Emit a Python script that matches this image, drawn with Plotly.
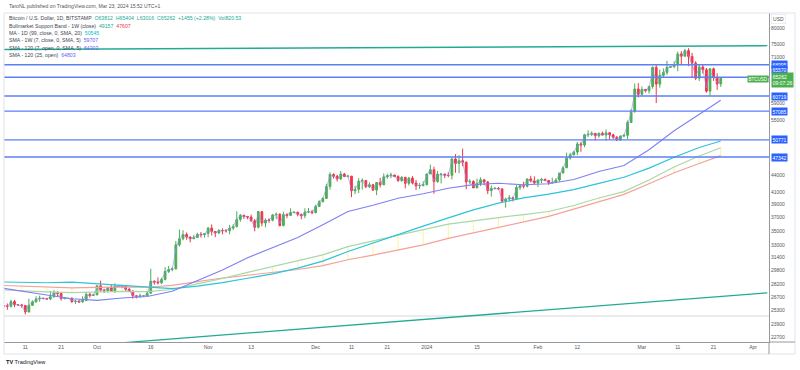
import math
import pandas as pd
import plotly.graph_objects as go

# ---------------- data ----------------
dates = pd.date_range("2023-09-05", "2024-03-23", freq="D")

opens = [
    25820, 25780, 25750, 26240, 25900, 25890, 25830, 25150, 25850, 26220, 26530, 26600, 26570, 26530, 26760, 27210, 27130, 26570, 26580, 26580, 26250, 26300, 26210, 26350, 27030, 26910,
    26970, 27990, 27500, 27430, 27790, 27410, 27950, 27970, 27940, 27590, 27390, 26870, 26760, 26860, 26860, 27160, 28520, 28420, 28330, 28720, 29680, 29920, 29990, 33080, 33920, 34500, 34150, 33910, 34090, 34530, 34490,
    34650, 35420, 34940, 34720, 35080, 35050, 35040, 35420, 35630, 36690, 37320, 37140, 37060, 36490, 35550, 37880, 36160, 36600, 36580, 37380, 37470, 35800, 37430, 37300, 37740, 37800, 37470, 37250, 37830, 37860,
    37720, 38690, 39470, 39980, 41980, 44080, 43770, 43290, 44170, 43720, 43790, 41240, 41490, 42890, 43020, 41940, 42280, 41370, 42660, 42270, 43660, 43870, 43990, 43730, 43010, 43590, 42520, 43440, 42580, 42070, 42140,
    42280, 44180, 44950, 42840, 44150, 44160, 43970, 43930, 46960, 46110, 46650, 46340, 42780, 42840, 41740, 42500, 43140, 42750, 41270, 41620, 41660, 41570, 39530, 39890, 40080, 39930, 41810, 42120, 42030, 43300, 42940,
    42580, 43080, 43200, 43010, 42580, 42660, 43090, 44340, 45300, 47140, 47770, 48300, 49950, 49720, 51830, 51930, 52140, 51640, 52140, 51780, 52280, 51850, 51320, 50740, 51570, 51730, 54490, 57050, 62500,
    61160, 62400, 62040, 63130, 68270, 63760, 66070, 66860, 68280, 68480, 68980, 72110, 71460, 73080, 71390, 69440, 65310, 68390, 67600, 61940, 67860, 65500, 63812,
]
highs = [
    25860, 26040, 26440, 26420, 25940, 26000, 25870, 26540, 26380, 26810, 26890, 26680, 26620, 27410, 27490, 27380, 27160, 26740, 26640, 26730, 26420, 26390, 26820, 27300, 27220, 27090,
    28060, 28580, 27660, 27830, 28120, 28270, 28020, 28100, 27990, 27730, 27480, 26940, 27100, 26960, 27290, 30000, 28610, 28970, 28920, 30210, 30350, 30200, 33600, 35200, 35120, 34800, 34250, 34470, 34750, 34860, 34710,
    35580, 35950, 34950, 35260, 35380, 35280, 35890, 35990, 37950, 37520, 37400, 37230, 37420, 36750, 37980, 37930, 36850, 36850, 37530, 37750, 37650, 37860, 37650, 38420, 37890, 37830, 37570, 38400, 38450, 38170,
    38970, 39680, 40200, 42420, 44480, 44300, 44040, 44710, 44370, 44040, 43820, 42100, 43420, 43420, 43090, 42700, 42420, 42750, 43480, 44280, 44230, 44400, 44020, 43950, 43780, 43610, 43660, 43790, 43130, 42590, 42880,
    44200, 45900, 45500, 44730, 44340, 44230, 44490, 47200, 47900, 47700, 49000, 46500, 43250, 43070, 43350, 43580, 43200, 42930, 42140, 41870, 41880, 41670, 40120, 40540, 40290, 42210, 42200, 42800, 43310, 43850, 43750,
    43250, 43480, 43380, 43120, 43510, 43410, 44360, 45600, 48200, 48170, 48580, 50330, 50380, 52040, 52820, 52570, 52170, 52350, 52500, 52980, 52370, 52060, 51550, 51690, 51960, 54930, 57570, 63900, 64000,
    63150, 62460, 63230, 68520, 69100, 67640, 67980, 70100, 68590, 69990, 72800, 72920, 73650, 73800, 72400, 70000, 68900, 68930, 68100, 68030, 68200, 66650, 65404,
]
lows = [
    25570, 25380, 25620, 25650, 25810, 25590, 24900, 25140, 25780, 26130, 26230, 26480, 26410, 26390, 26680, 26840, 26350, 26480, 26520, 26080, 25990, 26090, 26110, 26340, 26670, 26880,
    26950, 27330, 27170, 27220, 27350, 27190, 27860, 27710, 27290, 27300, 26560, 26580, 26700, 26810, 26820, 27120, 28110, 28140, 28180, 28600, 29480, 29690, 29900, 32850, 33700, 33780, 33430, 33880, 34030, 34070, 34080,
    34120, 34360, 34130, 34580, 34530, 34770, 34540, 35120, 35550, 36360, 36760, 36720, 36350, 34950, 35360, 35680, 35530, 36190, 36400, 36730, 35650, 35650, 36880, 37270, 37600, 37170, 36720, 36880, 37620, 37500,
    37620, 38650, 39300, 39970, 41430, 43350, 42830, 43100, 43590, 43580, 40200, 40680, 40860, 41450, 41680, 41700, 41250, 40530, 41830, 42200, 43330, 43410, 43600, 42760, 42750, 41650, 42140, 42330, 41350, 41540, 41990,
    42180, 44170, 40750, 42620, 42500, 43420, 43580, 43200, 44400, 44300, 45600, 41500, 42440, 41720, 41710, 42050, 42200, 40700, 40280, 41500, 41450, 39430, 38500, 39480, 39500, 39830, 41400, 41630, 41810, 42700, 42300,
    41880, 42570, 42880, 42250, 42550, 42600, 42790, 44330, 45260, 46850, 47660, 47720, 48370, 49280, 51340, 51580, 50630, 51180, 51700, 50600, 50840, 50950, 50560, 50590, 51300, 50950, 54450, 56700, 60380,
    60800, 61600, 61330, 62560, 59000, 62820, 65540, 66150, 68100, 68020, 67190, 68840, 71350, 68600, 65600, 64800, 64550, 66580, 61550, 60800, 64580, 62260, 63016,
]
closes = [
    25780, 25750, 26240, 25900, 25890, 25830, 25150, 25850, 26220, 26530, 26600, 26570, 26530, 26760, 27210, 27130, 26570, 26580, 26580, 26250, 26300, 26210, 26350, 27030, 26910, 26970,
    27990, 27500, 27430, 27790, 27410, 27950, 27970, 27940, 27590, 27390, 26870, 26760, 26860, 26860, 27160, 28520, 28420, 28330, 28720, 29680, 29920, 29990, 33080, 33920, 34500, 34150, 33910, 34090, 34530, 34490, 34650,
    35420, 34940, 34720, 35080, 35050, 35040, 35420, 35630, 36690, 37320, 37140, 37060, 36490, 35550, 37880, 36160, 36600, 36580, 37380, 37470, 35800, 37430, 37300, 37740, 37800, 37470, 37250, 37830, 37860, 37720,
    38690, 39470, 39980, 41980, 44080, 43770, 43290, 44170, 43720, 43790, 41240, 41490, 42890, 43020, 41940, 42280, 41370, 42660, 42270, 43660, 43870, 43990, 43730, 43010, 43590, 42520, 43440, 42580, 42070, 42140, 42280,
    44180, 44950, 42840, 44150, 44160, 43970, 43930, 46960, 46110, 46650, 46340, 42780, 42840, 41740, 42500, 43140, 42750, 41270, 41620, 41660, 41570, 39530, 39890, 40080, 39930, 41810, 42120, 42030, 43300, 42940, 42580,
    43080, 43200, 43010, 42580, 42660, 43090, 44340, 45300, 47140, 47770, 48300, 49950, 49720, 51830, 51930, 52140, 51640, 52140, 51780, 52280, 51850, 51320, 50740, 51570, 51730, 54490, 57050, 62500, 61160,
    62400, 62040, 63130, 68270, 63760, 66070, 66860, 68280, 68480, 68980, 72110, 71460, 73080, 71390, 69440, 65310, 68390, 67600, 61940, 67860, 65500, 63800, 65262,
]
# SMA - 120 (7, open) as seen on the daily chart
sma_2h = [
    25750, 25800, 26100, 25950, 25890, 25800, 25200, 25900, 26150, 26450, 26600, 26580, 26540, 26800, 27200, 27050, 26600, 26580, 26580, 26400, 26250, 26230, 26400, 26950, 26900, 26950,
    27700, 27600, 27450, 27700, 27500, 27900, 27960, 27950, 27600, 27400, 26900, 26750, 26850, 26860, 27050, 28400, 28450, 28400, 28650, 29600, 29900, 29950, 32500, 34000, 34500, 34200, 33900, 34050, 34450, 34450, 34550,
    35200, 35000, 34700, 35000, 35000, 35050, 35350, 35600, 36800, 37200, 37150, 37050, 36600, 35600, 37600, 36400, 36450, 36600, 37200, 37450, 36100, 37300, 37350, 37800, 37780, 37500, 37200, 37800, 37850, 37750,
    38600, 39400, 39900, 41800, 43800, 43850, 43300, 44000, 43800, 43800, 41300, 41500, 42600, 42900, 42100, 42200, 41500, 42400, 42400, 43500, 43800, 43900, 43750, 43200, 43500, 42700, 43300, 42700, 42200, 42150, 42300,
    43900, 45100, 42900, 44000, 44000, 43950, 43900, 46700, 46200, 46400, 46500, 43200, 42800, 41900, 42400, 43000, 42700, 41400, 41600, 41650, 41580, 39800, 39800, 40050, 39950, 41600, 42100, 42050, 43100, 43000, 42600,
    43000, 43150, 43050, 42650, 42700, 43050, 44100, 45200, 46900, 47700, 48200, 49700, 49700, 51600, 51900, 52100, 51700, 52000, 51800, 52100, 51800, 51400, 50900, 51500, 51700, 54000, 56800, 61500, 61600,
    62300, 62100, 62900, 67500, 64500, 65800, 66800, 68000, 68450, 68900, 71600, 71600, 72900, 71800, 69200, 66000, 67900, 67700, 62800, 67000, 65800, 64100, 64303,
]

# weekly indicator points (week closes, last = current bar)
week_dates = ["2023-09-03", "2023-09-10", "2023-09-17", "2023-09-24", "2023-10-01", "2023-10-08", "2023-10-15",
              "2023-10-22", "2023-10-29", "2023-11-05", "2023-11-12", "2023-11-19", "2023-11-26", "2023-12-03",
              "2023-12-10", "2023-12-17", "2023-12-24", "2023-12-31", "2024-01-07", "2024-01-14", "2024-01-21",
              "2024-01-28", "2024-02-04", "2024-02-11", "2024-02-18", "2024-02-25", "2024-03-03", "2024-03-10",
              "2024-03-17", "2024-03-23"]
sma_7w = [27830, 27350, 26950, 26550, 26370, 26630, 26800, 27380, 28630, 29840, 31390, 32730, 34090, 35920,
          37890, 38870, 40010, 40750, 41690, 42300, 42530, 42280, 42450, 43200, 44610, 45730, 48780, 52700,
          56460, 59707]
ema_21w = [27550, 27390, 27310, 27220, 27290, 27350, 27330, 27570, 28200, 28830, 29570, 30280, 30940, 31760,
           32850, 33630, 34480, 35190, 35990, 36510, 36970, 37430, 37900, 38840, 40050, 41110, 43110, 45460,
           47550, 49157]
sma_20w = [28050, 27970, 27830, 27750, 27800, 27860, 27820, 28030, 28460, 28890, 29220, 29550, 29910, 30400,
           31130, 31730, 32430, 33080, 33970, 34760, 35540, 36350, 37160, 38260, 39470, 40650, 42450, 44400,
           46100, 47607]
sma_99d = [28440, 28350, 28340, 28400, 28210, 28010, 27760, 27660, 27950, 28350, 28860, 29380, 30090, 30960,
           32190, 33340, 34570, 35700, 36930, 38150, 39220, 40060, 40700, 41450, 42520, 43590, 45240, 47300,
           49210, 50545]

levels = [68995, 65570, 60719, 57085, 50771, 47342]
gray_level = 24740
last_price = 65262
trend_top_dates = ["2023-09-05", "2024-04-05"]
trend_top_prices = [73430, 74570]
trend_bot_dates = ["2023-10-01", "2024-04-05"]
trend_bot_prices = [22000, 27200]

y_ticks = [80000, 75000, 71000, 59000, 55000, 44000, 41000, 39000, 37000, 35000, 33000,
           31400, 29800, 28200, 26700, 25300, 23900, 22700]
x_tick_dates = ["2023-09-11", "2023-09-21", "2023-10-01", "2023-10-16", "2023-11-01", "2023-11-13",
                "2023-12-01", "2023-12-11", "2023-12-21", "2024-01-01", "2024-01-15", "2024-02-01",
                "2024-02-12", "2024-03-01", "2024-03-11", "2024-03-21", "2024-04-01"]
x_tick_labels = ["11", "21", "Oct", "16", "Nov", "13", "Dec", "11", "21", "2024", "15", "Feb", "12",
                 "Mar", "11", "21", "Apr"]

# ---------------- style ----------------
UP = "#4caf50"
DOWN = "#f23645"
BLUE = "#2962ff"
TEAL = "#22ab94"
X0, X1 = "2023-09-05 01:30", "2024-04-05 11:00"
FONT = "Liberation Sans, Arial, sans-serif"


def PX(x):
    return (x - 4) / 765


def PY(y):
    return (342 - y) / 329


fig = go.Figure()

# band hatch (weekly fill marks)
hx, hy = [], []
for d, g, r in zip(week_dates, ema_21w, sma_20w):
    hx += [d, d, None]
    hy += [g, r, None]
fig.add_trace(go.Scatter(x=hx, y=hy, mode="lines", line=dict(color="rgba(255,230,80,0.55)", width=1), hoverinfo="skip"))

fig.add_trace(go.Scatter(x=week_dates, y=sma_20w, mode="lines", line=dict(color="#f5a196", width=1.2)))
fig.add_trace(go.Scatter(x=week_dates, y=ema_21w, mode="lines", line=dict(color="#a8d8a8", width=1.2)))
fig.add_trace(go.Scatter(x=week_dates, y=sma_99d, mode="lines", line=dict(color="#2cc4d8", width=1.2)))
fig.add_trace(go.Scatter(x=week_dates, y=sma_7w, mode="lines", line=dict(color="#7f80f2", width=1.1)))

# horizontal levels
fig.add_trace(go.Scatter(x=[X0, X1], y=[gray_level, gray_level], mode="lines", line=dict(color="#d6d8de", width=1)))
for lv in levels:
    fig.add_trace(go.Scatter(x=[X0, X1], y=[lv, lv], mode="lines", line=dict(color="#5a7ff7", width=1.4)))

# trend lines
fig.add_trace(go.Scatter(x=trend_top_dates, y=trend_top_prices, mode="lines", line=dict(color=TEAL, width=1.3)))
fig.add_trace(go.Scatter(x=trend_bot_dates, y=trend_bot_prices, mode="lines", line=dict(color=TEAL, width=1.3)))

# candles
fig.add_trace(go.Candlestick(
    x=dates, open=opens, high=highs, low=lows, close=closes,
    increasing=dict(line=dict(color=UP, width=1), fillcolor=UP),
    decreasing=dict(line=dict(color=DOWN, width=1), fillcolor=DOWN),
    whiskerwidth=0, hoverinfo="skip",
))
fig.add_trace(go.Scatter(x=dates, y=sma_2h, mode="lines", line=dict(color="rgba(140,140,245,0.8)", width=0.8)))

fig.update_layout(
    width=800, height=370,
    margin=dict(l=4, r=31, t=13, b=28),
    paper_bgcolor="white", plot_bgcolor="white",
    showlegend=False,
    font=dict(family=FONT, size=5, color="#4a4a4a"),
    xaxis=dict(type="date", range=[X0, X1], rangeslider=dict(visible=False), showgrid=False,
               zeroline=False, tickvals=x_tick_dates, ticktext=x_tick_labels, ticks="",
               showline=True, linecolor="#9598a1", linewidth=1, automargin=False,
               tickfont=dict(size=5, color="#555555")),
    yaxis=dict(type="log", side="right", range=[math.log10(22251), math.log10(85220)],
               tickvals=y_ticks, ticktext=[str(v) for v in y_ticks], showgrid=False, zeroline=False,
               showline=True, linecolor="#9598a1", linewidth=1, ticks="", automargin=False,
               tickfont=dict(size=5, color="#555555")),
)

# frame
fig.add_shape(type="rect", xref="paper", yref="paper", x0=PX(4), x1=PX(795), y0=PY(354), y1=PY(13),
              line=dict(color="#e0e3eb", width=1))
fig.add_shape(type="line", xref="paper", yref="paper", x0=PX(769), x1=PX(795), y0=PY(342), y1=PY(342),
              line=dict(color="#9598a1", width=1))
fig.add_shape(type="line", xref="paper", yref="paper", x0=PX(769), x1=PX(769), y0=PY(354), y1=PY(342),
              line=dict(color="#9598a1", width=1))

# price axis labels
label_shift = [0, 8, 0, 0, 0, 0]
for lv, sh in zip(levels, label_shift):
    fig.add_annotation(x=1, xref="paper", y=math.log10(lv), yref="y", xanchor="left", yanchor="middle",
                       xshift=1.5, yshift=sh, text=str(lv), showarrow=False, bgcolor=BLUE,
                       font=dict(color="white", size=5, family=FONT), borderpad=0.5)
fig.add_annotation(x=1, xref="paper", y=math.log10(last_price), yref="y", xanchor="left", yanchor="top",
                   xshift=1.5, yshift=6.4, text=f"{last_price}<br>09:07:26", showarrow=False, bgcolor=UP,
                   align="left", font=dict(color="white", size=5, family=FONT), borderpad=0.8)
fig.add_annotation(x=1, xref="paper", y=math.log10(last_price), yref="y", xanchor="right", yanchor="middle",
                   xshift=-0.5, yshift=-0.6, text="BTCUSD", showarrow=False, bgcolor=UP,
                   font=dict(color="white", size=4.5, family=FONT), borderpad=0.5)
fig.add_annotation(x=PX(771), xref="paper", y=PY(19), yref="paper", xanchor="left", yanchor="middle",
                   text="USD", showarrow=False, bgcolor="white", bordercolor="#e0e3eb", borderwidth=0.6,
                   font=dict(color="#555555", size=5, family=FONT), borderpad=1.5)

# header and legend
G = "#434651"
GR = "#22ab94"
RD = "#f23645"
fig.add_annotation(x=PX(7), xref="paper", y=PY(5.7), yref="paper", xanchor="left", yanchor="middle",
                   text="TaroNL published on TradingView.com, Mar 23, 2024 15:52 UTC+1", showarrow=False,
                   font=dict(color="#555555", size=5.1, family=FONT))
legend_lines = [
    f"Bitcoin / U.S. Dollar, 1D, BITSTAMP  <span style='color:{GR}'>O63812  H65404  L63016  C65262  +1455 (+2.28%)  Vol820.53</span>",
    f"Bullmarket Support Band - 1W (close)  <span style='color:{GR}'>49157</span>  <span style='color:{RD}'>47607</span>",
    "MA - 1D (99, close, 0, SMA, 20)  <span style='color:#00bcd4'>50545</span>",
    "SMA - 1W (7, close, 0, SMA, 5)  <span style='color:#6a5cf5'>59707</span>",
    "SMA - 120 (7, open, 0, SMA, 5)  <span style='color:#6a5cf5'>64303</span>",
    "SMA - 120 (25, open)  <span style='color:#6a5cf5'>64803</span>",
]
for i, t in enumerate(legend_lines):
    fig.add_annotation(x=PX(7), xref="paper", y=PY(18.2 + 7.35 * i), yref="paper", xanchor="left",
                       yanchor="middle", text=t, showarrow=False, font=dict(color=G, size=5.2, family=FONT))

fig.add_annotation(x=PX(4), xref="paper", y=PY(362), yref="paper", xanchor="left", yanchor="middle",
                   text="<b>TV</b> TradingView", showarrow=False,
                   font=dict(color="#131722", size=5.6, family=FONT))

fig.write_html("out.html", config={"displayModeBar": False},
               post_script="document.body.style.margin='0';document.body.style.overflow='hidden';")
